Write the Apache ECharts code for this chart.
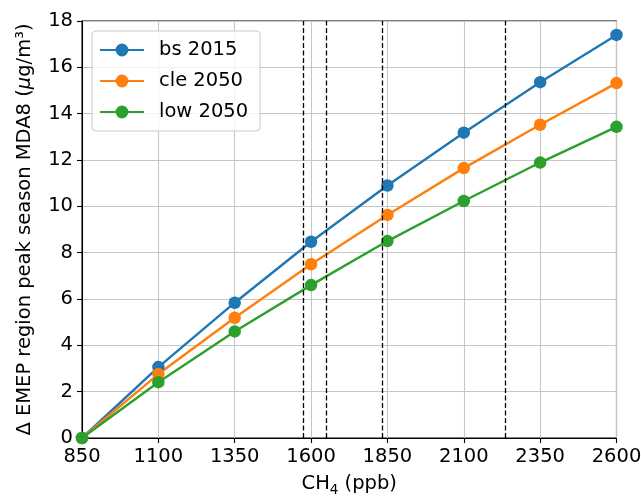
<!DOCTYPE html>
<html>
<head>
<meta charset="utf-8">
<script src="https://cdn.jsdelivr.net/npm/echarts@6/dist/echarts.min.js"></script>
<style>html,body{margin:0;padding:0;background:#fff}#c{width:641px;height:496px}</style>
</head>
<body>
<div id="c"></div>
<script>
var ch4 = [850, 1100, 1350, 1600, 1850, 2100, 2350, 2600];
var bs2015 = [0.0, 3.06, 5.84, 8.47, 10.9, 13.18, 15.36, 17.40];
var cle2050 = [0.0, 2.76, 5.19, 7.50, 9.63, 11.65, 13.52, 15.32];
var low2050 = [0.0, 2.41, 4.60, 6.60, 8.50, 10.23, 11.89, 13.43];
var dashedX = [1573, 1650, 1832, 2236];
var xTicks = [850, 1100, 1350, 1600, 1850, 2100, 2350, 2600];
var yTicks = [0, 2, 4, 6, 8, 10, 12, 14, 16, 18];

var X0 = xTicks[0];
var FONT = 'DejaVu Sans';
var FS = 19.5;

function pairs(ys) { return ch4.map(function (x, i) { return [x - X0, ys[i]]; }); }

function mkSeries(name, ys, color) {
  return {
    name: name, type: 'line', data: pairs(ys), color: color,
    symbol: 'circle', symbolSize: 12.5, showSymbol: true,
    lineStyle: { width: 2.4, color: color },
    itemStyle: { color: color },
    emphasis: { disabled: true }, animation: false, clip: true, z: 3
  };
}

var chart = echarts.init(document.getElementById('c'), null, { renderer: 'canvas' });
chart.setOption({
  animation: false,
  backgroundColor: '#fff',
  textStyle: { fontFamily: FONT },
  grid: { left: 82, right: 24.5, top: 21, bottom: 58, containLabel: false, outerBoundsMode: 'none',
    show: true, borderColor: '#000', borderWidth: 1.1, backgroundColor: 'transparent' },
  legend: {
    left: 92, top: 31, orient: 'vertical',
    itemWidth: 44, itemHeight: 16, itemGap: 11,
    padding: [9, 12, 9, 7],
    backgroundColor: 'rgba(255,255,255,0.8)', borderColor: '#cccccc', borderWidth: 1.1, borderRadius: 4,
    textStyle: { fontFamily: FONT, fontSize: FS, color: '#000', padding: [0, 0, 0, 10] },
    data: ['bs 2015', 'cle 2050', 'low 2050']
  },
  xAxis: {
    type: 'value', min: 0, max: xTicks[xTicks.length - 1] - X0, interval: xTicks[1] - xTicks[0],
    name: '{n|CH}{s|4}{n| (ppb)}', nameLocation: 'middle', nameGap: 36,
    nameTextStyle: { fontFamily: FONT, fontSize: FS, color: '#000',
      rich: {
        n: { fontFamily: FONT, fontSize: FS, color: '#000', verticalAlign: 'top' },
        s: { fontFamily: FONT, fontSize: 13.5, color: '#000', verticalAlign: 'top', padding: [9, 0, 0, 0] }
      } },
    axisLine: { show: true, lineStyle: { color: '#000', width: 1.1 } },
    axisTick: { show: true, length: 5, lineStyle: { color: '#000', width: 1.1 } },
    axisLabel: { fontFamily: FONT, fontSize: FS, color: '#000', margin: 9, formatter: function (v) { return String(v + X0); } },
    splitLine: { show: true, lineStyle: { color: '#c6c6c6', width: 1.1 } }
  },
  yAxis: {
    type: 'value', min: yTicks[0], max: yTicks[yTicks.length - 1], interval: yTicks[1] - yTicks[0],
    name: '\u0394 EMEP region peak season MDA8 ({i|\u03bc}g/m\u00b3)', nameLocation: 'middle', nameGap: 47, nameRotate: 90,
    nameTextStyle: { fontFamily: FONT, fontSize: FS, color: '#000', rich: { i: { fontFamily: FONT, fontSize: FS, fontStyle: 'italic', color: '#000' } } },
    axisLine: { show: true, lineStyle: { color: '#000', width: 1.1 } },
    axisTick: { show: true, length: 5, lineStyle: { color: '#000', width: 1.1 } },
    axisLabel: { fontFamily: FONT, fontSize: FS, color: '#000', margin: 9 },
    splitLine: { show: true, lineStyle: { color: '#c6c6c6', width: 1.1 } }
  },
  series: [
    {
      name: 'dashed', type: 'line', data: [], z: 2, silent: true,
      markLine: {
        silent: true, symbol: ['none', 'none'], label: { show: false }, animation: false,
        lineStyle: { color: '#000', type: [5, 2.5], width: 1.3 },
        emphasis: { disabled: true },
        data: dashedX.map(function (x) { return { xAxis: x - X0 }; })
      }
    },
    mkSeries('bs 2015', bs2015, '#1f77b4'),
    mkSeries('cle 2050', cle2050, '#ff7f0e'),
    mkSeries('low 2050', low2050, '#2ca02c')
  ]
});
</script>
</body>
</html>
